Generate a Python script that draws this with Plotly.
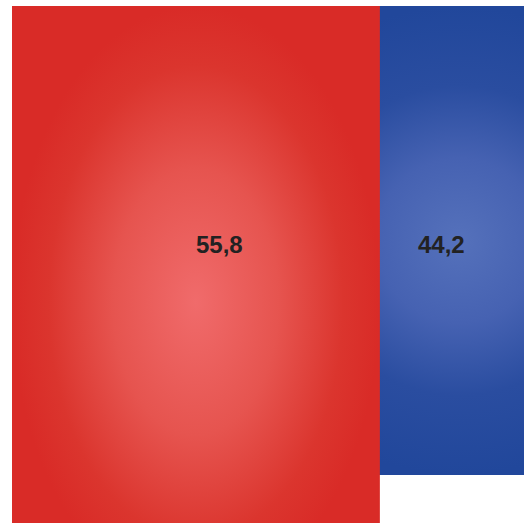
import plotly.graph_objects as go

# ---- data ----
categories = ["A", "B"]
values = [55.8, 44.2]
labels = ["55,8", "44,2"]

# ---- style ----
colorscales = [
    [[0, "#F06B6B"], [0.45, "#E6544F"], [0.8, "#DB352E"], [1, "#D92B27"]],
    [[0, "#5571BB"], [0.35, "#4662B2"], [0.66, "#2A4DA0"], [1, "#21479B"]],
]
bar_centers = [0.359, 0.873]        # x-axis units (0..1 plot width)
bar_widths = [0.719, 0.918]
label_x = [0.406, 0.838]
label_y = 22.5                      # label depth in value units
y_max = 48.72
draw_order = [1, 0]                 # second bar sits behind the first

fig = go.Figure()
for i in draw_order:
    c, w, v = bar_centers[i], bar_widths[i], values[i]
    x0, x1 = c - w / 2, c + w / 2
    fig.add_trace(go.Scatter(
        x=[x0, x1, x1, x0, x0], y=[0, 0, v, v, 0],
        mode="lines", line=dict(width=0), fill="toself",
        fillgradient=dict(type="radial", colorscale=colorscales[i]),
        hoverinfo="skip", showlegend=False, name=categories[i]))

for i in range(len(values)):
    fig.add_annotation(x=label_x[i], y=label_y, text=labels[i], showarrow=False,
                       font=dict(family="Liberation Sans, Arial, sans-serif",
                                 size=24, color="#222222", weight="bold"))

fig.update_layout(
    width=524, height=523,
    margin=dict(l=12, r=0, t=6, b=0),
    paper_bgcolor="white", plot_bgcolor="white",
    xaxis=dict(range=[0, 1], visible=False, fixedrange=True),
    yaxis=dict(range=[y_max, 0], visible=False, fixedrange=True),
    showlegend=False,
)
fig.write_html("out.html")
